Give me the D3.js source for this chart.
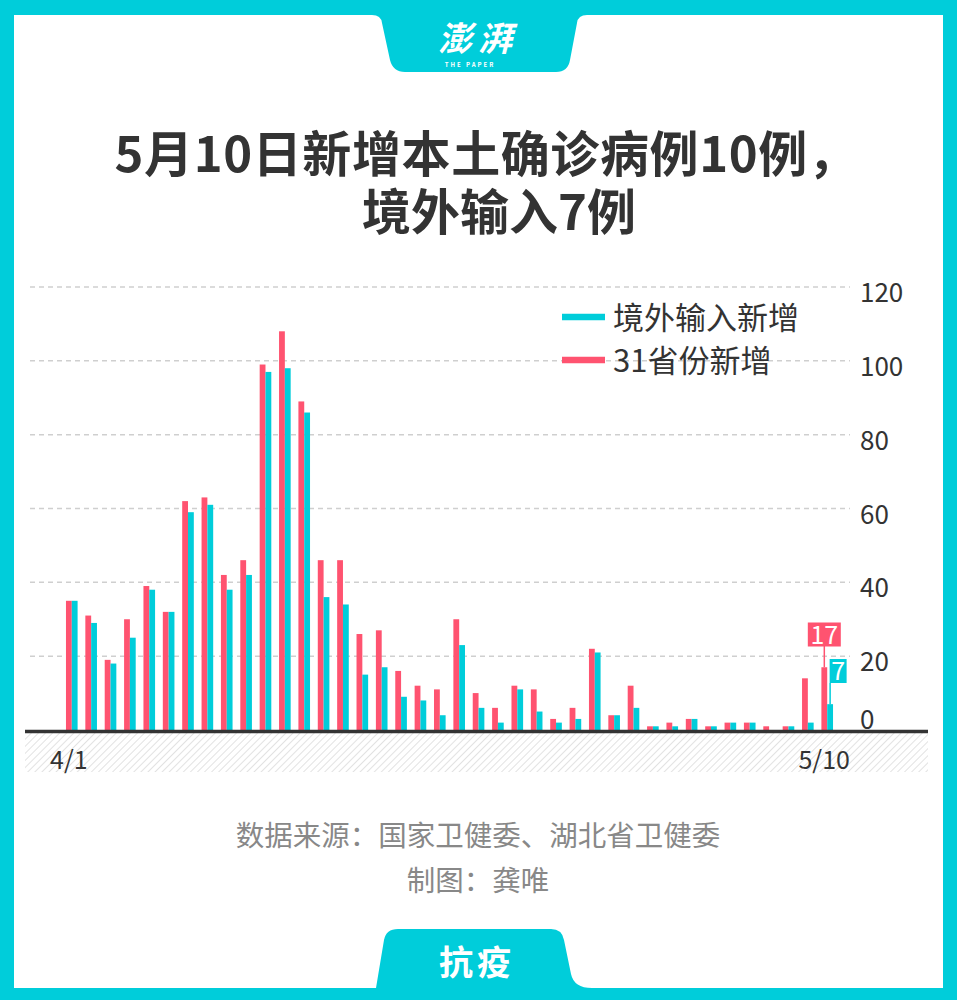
<!DOCTYPE html>
<html>
<head>
<meta charset="utf-8">
<script src="https://cdn.jsdelivr.net/npm/d3@7"></script>
<style>
  body { margin: 0; background: #fff; }
  svg { display: block; font-family: "Noto Sans CJK SC", "Noto Sans", sans-serif; }
</style>
</head>
<body>
<svg id="chart" width="957" height="1000"></svg>
<script>
// donnees
const dates = ["4/1","4/2","4/3","4/4","4/5","4/6","4/7","4/8","4/9","4/10",
               "4/11","4/12","4/13","4/14","4/15","4/16","4/17","4/18","4/19","4/20",
               "4/21","4/22","4/23","4/24","4/25","4/26","4/27","4/28","4/29","4/30",
               "5/1","5/2","5/3","5/4","5/5","5/6","5/7","5/8","5/9","5/10"];
const nouveaux31 = [35,31,19,30,39,32,62,63,42,46,
                    99,108,89,46,46,26,27,16,12,11,
                    30,10,6,12,11,3,6,22,4,12,
                    1,2,3,1,2,2,1,1,14,17];
const importes = [35,29,18,25,38,32,59,61,38,42,
                  97,98,86,36,34,15,17,9,8,4,
                  23,6,2,11,5,2,3,21,4,6,
                  1,1,3,1,2,2,0,1,2,7];
const yTicks = [0,20,40,60,80,100,120];
const xLabels = ["4/1","5/10"];
const series = ["31省份新增","境外输入新增"];

const CYAN = "#00CDDA";
const RED = "#FF5370";
const TEXT = "#333";

const svg = d3.select("#chart");

// cadre
svg.append("rect").attr("width",957).attr("height",1000).attr("fill",CYAN);
svg.append("rect").attr("x",14).attr("y",15).attr("width",929).attr("height",973).attr("fill","#fff");

// onglet du haut
svg.append("path")
  .attr("d","M372,15 Q381,15 382,23 L390,60 Q393,72 405,72 L556,72 Q568,72 570,60 L577,23 Q578,15 587,15 Z")
  .attr("fill",CYAN);
svg.append("text").attr("x",478).attr("y",51).attr("text-anchor","middle")
  .attr("font-size",34).attr("font-weight",700).attr("fill","#fff")
  .attr("font-style","italic").attr("letter-spacing",6).text("澎湃");
svg.append("text").attr("x",470).attr("y",67).attr("text-anchor","middle")
  .attr("font-size",6).attr("font-weight",700).attr("fill","#fff")
  .attr("letter-spacing",2).text("THE PAPER");

// onglet du bas
svg.append("path")
  .attr("d","M376,988 L384,940 Q386,929 398,929 L551,929 Q562,929 564,940 L571,974 Q574,988 592,988 Z")
  .attr("fill",CYAN);
svg.append("text").attr("x",477).attr("y",975).attr("text-anchor","middle")
  .attr("font-size",34).attr("font-weight",700).attr("fill","#fff")
  .attr("letter-spacing",4).text("抗疫");

// titre (un seul texte sur deux lignes)
const titre = svg.append("text").attr("text-anchor","middle")
  .attr("font-size",49).attr("font-weight",700).attr("fill",TEXT);
titre.append("tspan").attr("x",486).attr("y",172).attr("letter-spacing",0.6)
  .text("5月10日新增本土确诊病例10例，");
titre.append("tspan").attr("x",499).attr("y",230)
  .text("境外输入7例");

// echelles
const x0 = d3.scaleBand().domain(dates).range([62.1,836.9]).paddingInner(0.4).paddingOuter(0.2);
const x1 = d3.scaleBand().domain(series).range([0,x0.bandwidth()]);
const y = d3.scaleLinear().domain([0,120]).range([730,287]);

// grille
svg.append("g").selectAll("line").data(yTicks.filter(d => d > 0)).join("line")
  .attr("x1",30).attr("x2",850)
  .attr("y1",d => y(d)).attr("y2",d => y(d))
  .attr("stroke","#cfcfcf").attr("stroke-width",1.5).attr("stroke-dasharray","5,4");

// libelles axe y
svg.append("g").selectAll("text").data(yTicks).join("text")
  .attr("x",860).attr("y",d => d === 0 ? y(d) - 1 : y(d) + 15)
  .attr("font-size",26).attr("fill",TEXT).text(d => d);

// zone hachuree sous l'axe
const defs = svg.append("defs");
const pat = defs.append("pattern").attr("id","hachure").attr("patternUnits","userSpaceOnUse")
  .attr("width",5).attr("height",5).attr("patternTransform","rotate(45)");
pat.append("rect").attr("width",5).attr("height",5).attr("fill","#fff");
pat.append("line").attr("x1",0).attr("y1",0).attr("x2",0).attr("y2",5)
  .attr("stroke","#e2e2e2").attr("stroke-width",2);
svg.append("rect").attr("x",25).attr("y",732).attr("width",903).attr("height",40)
  .attr("fill","url(#hachure)");

// barres
const groupes = svg.append("g").selectAll("g").data(dates).join("g")
  .attr("transform",d => "translate(" + x0(d) + ",0)");
groupes.append("rect")
  .attr("x",x1(series[0])).attr("width",x1.bandwidth())
  .attr("y",(d,i) => y(nouveaux31[i])).attr("height",(d,i) => y(0) - y(nouveaux31[i]))
  .attr("fill",RED);
groupes.append("rect")
  .attr("x",x1(series[1])).attr("width",x1.bandwidth())
  .attr("y",(d,i) => y(importes[i])).attr("height",(d,i) => y(0) - y(importes[i]))
  .attr("fill",CYAN);

// axe x
svg.append("line").attr("x1",25).attr("x2",928).attr("y1",731.5).attr("y2",731.5)
  .attr("stroke","#333").attr("stroke-width",3.5);
svg.append("g").selectAll("text").data(xLabels).join("text")
  .attr("x",d => x0(d) + x0.bandwidth() / 2 - 3).attr("y",769)
  .attr("text-anchor","middle").attr("font-size",25).attr("fill",TEXT).text(d => d);

// etiquettes du dernier jour
const dernier = dates.length - 1;
const xr = x0(dates[dernier]) + x1(series[0]) + x1.bandwidth() / 2;
const xc = x0(dates[dernier]) + x1(series[1]) + x1.bandwidth() / 2;
svg.append("line").attr("x1",xr).attr("x2",xr).attr("y1",646).attr("y2",y(nouveaux31[dernier]))
  .attr("stroke",RED).attr("stroke-width",1.5);
svg.append("rect").attr("x",xr - 16.5).attr("y",622.5).attr("width",33).attr("height",24).attr("fill",RED);
svg.append("text").attr("x",xr).attr("y",644).attr("text-anchor","middle")
  .attr("font-size",25).attr("fill","#fff").text(nouveaux31[dernier]);
svg.append("line").attr("x1",xc).attr("x2",xc).attr("y1",683).attr("y2",y(importes[dernier]))
  .attr("stroke",CYAN).attr("stroke-width",1.5);
svg.append("rect").attr("x",xc - 0.5).attr("y",659).attr("width",17).attr("height",24).attr("fill",CYAN);
svg.append("text").attr("x",xc + 8).attr("y",680).attr("text-anchor","middle")
  .attr("font-size",25).attr("fill","#fff").text(importes[dernier]);

// legende
const legende = [{nom: series[1], col: CYAN, y: 317}, {nom: series[0], col: RED, y: 360}];
legende.forEach(l => {
  svg.append("line").attr("x1",562).attr("x2",605).attr("y1",l.y).attr("y2",l.y)
    .attr("stroke",l.col).attr("stroke-width",6.5);
  svg.append("text").attr("x",613).attr("y",l.y + 12).attr("font-size",31).attr("fill",TEXT).text(l.nom);
});

// sources
svg.append("text").attr("x",478).attr("y",846).attr("text-anchor","middle")
  .attr("font-size",28.5).attr("fill","#888").text("数据来源：国家卫健委、湖北省卫健委");
svg.append("text").attr("x",478).attr("y",891).attr("text-anchor","middle")
  .attr("font-size",28.5).attr("fill","#888").text("制图：龚唯");
</script>
</body>
</html>
